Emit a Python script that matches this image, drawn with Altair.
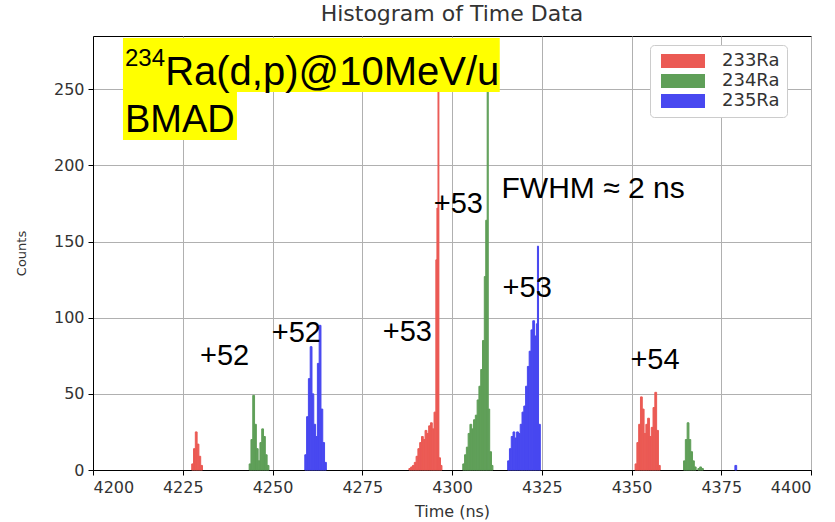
import altair as alt
import pandas as pd

# ---------------- histogram data (bin edges / counts) ----------------
# 233Ra
r1_edges = [4227.5, 4228.0, 4228.5, 4229.0, 4229.5, 4230.0, 4230.5]
r1_counts = [4, 14, 25, 17, 9, 3]
r2_edges = [4288.0, 4288.5, 4289.0, 4289.5, 4290.0, 4290.5, 4291.0, 4291.5, 4292.0,
            4292.5, 4293.0, 4293.5, 4294.0, 4294.5, 4295.0, 4295.5, 4295.8, 4296.1,
            4296.35, 4296.8, 4297.2]
r2_counts = [1, 2, 3, 5, 9, 14, 18, 22, 20, 26, 24, 29, 31, 27, 38, 138, 172, 272, 8, 3]
r3_edges = [4351.0, 4351.5, 4352.0, 4352.5, 4353.0, 4353.5, 4354.0, 4354.5, 4355.0,
            4355.5, 4356.0, 4356.5, 4357.0, 4357.5, 4358.0]
r3_counts = [4, 18, 30, 48, 40, 24, 30, 34, 22, 28, 41, 51, 26, 3]

# 234Ra
g1_edges = [4243.5, 4244.0, 4244.5, 4245.0, 4245.5, 4246.0, 4246.5, 4247.0, 4247.5,
            4248.0, 4248.5, 4249.0]
g1_counts = [4, 20, 49, 30, 14, 6, 18, 27, 22, 10, 3]
g2_edges = [4303.0, 4303.5, 4304.0, 4304.5, 4305.0, 4305.5, 4306.0, 4306.5, 4307.0,
            4307.5, 4308.0, 4308.5, 4309.0, 4309.4, 4309.8, 4310.1, 4310.5, 4311.0, 4311.4]
g2_counts = [4, 10, 15, 24, 30, 27, 33, 36, 46, 55, 66, 85, 127, 164, 268, 40, 12, 3]
g3_edges = [4364.5, 4365.0, 4365.5, 4366.0, 4366.5, 4367.0, 4367.5, 4368.0, 4368.5,
            4369.0, 4369.5, 4370.0]
g3_counts = [6, 20, 31, 20, 12, 6, 2, 0, 1, 2, 1]

# 235Ra
b1_edges = [4259.0, 4259.5, 4260.0, 4260.5, 4261.0, 4261.5, 4262.0, 4262.5, 4263.0,
            4263.5, 4264.0, 4264.5, 4265.0]
b1_counts = [10, 35, 60, 81, 50, 30, 22, 70, 95, 40, 18, 5]
b2_edges = [4315.5, 4316.0, 4316.5, 4317.0, 4317.5, 4318.0, 4318.5, 4319.0, 4319.5,
            4320.0, 4320.5, 4321.0, 4321.5, 4322.0, 4322.5, 4323.0, 4323.5, 4323.8,
            4324.1, 4324.6]
b2_counts = [6, 14, 22, 25, 21, 25, 24, 30, 38, 42, 55, 68, 78, 92, 98, 88, 96, 147, 30]
b3_edges = [4378.8, 4379.3]
b3_counts = [3]

isotopes = ["233Ra", "234Ra", "235Ra"]
colors = ["#eb5a54", "#5f9f58", "#4848f0"]

groups = [
    ("233Ra", r1_edges, r1_counts), ("233Ra", r2_edges, r2_counts), ("233Ra", r3_edges, r3_counts),
    ("234Ra", g1_edges, g1_counts), ("234Ra", g2_edges, g2_counts), ("234Ra", g3_edges, g3_counts),
    ("235Ra", b1_edges, b1_counts), ("235Ra", b2_edges, b2_counts), ("235Ra", b3_edges, b3_counts),
]
rows = []
for iso, edges, counts in groups:
    for i, c in enumerate(counts):
        if c > 0:
            rows.append({"iso": iso, "x0": edges[i], "x1": edges[i + 1], "count": c, "base": 0})
hist = pd.DataFrame(rows)

# ---------------- annotations ----------------
ann_text = ["+52", "+52", "+53", "+53", "+53", "+54", "FWHM \u2248 2 ns",
            "234", "Ra(d,p)@10MeV/u", "BMAD"]
ann_x = [4229.8, 4249.8, 4280.7, 4294.9, 4314.1, 4349.7, 4313.8, 4208.9, 4220.1, 4208.9]
ann_y = [69.0, 84.1, 84.7, 168.8, 113.6, 66.3, 178.6, 265.0, 252.8, 222.0]
ann_size = [29, 29, 29, 29, 29, 29, 30, 24, 40, 38]
ann = pd.DataFrame({"text": ann_text, "x": ann_x, "y": ann_y, "size": ann_size})

box_x0 = [4208.35, 4208.35]
box_x1 = [4313.3, 4240.1]
box_y0 = [248.2, 216.7]
box_y1 = [283.7, 248.2]
boxes = pd.DataFrame({"x0": box_x0, "x1": box_x1, "y0": box_y0, "y1": box_y1})

x_ticks = [4200, 4225, 4250, 4275, 4300, 4325, 4350, 4375, 4400]
y_ticks = [0, 50, 100, 150, 200, 250]

xscale = alt.Scale(domain=[4200, 4400], nice=False, zero=False)
yscale = alt.Scale(domain=[0, 285], nice=False)
cscale = alt.Scale(domain=isotopes, range=colors)

bars = alt.Chart(hist).mark_rect(strokeWidth=1).encode(
    x=alt.X("x0:Q", scale=xscale,
            axis=alt.Axis(values=x_ticks, title="Time (ns)", format="d",
                          titleY=46, titleBaseline="alphabetic")),
    x2="x1:Q",
    y=alt.Y("count:Q", scale=yscale,
            axis=alt.Axis(values=y_ticks, title="Counts",
                          titleX=-72, titleY=217, titleAngle=270,
                          titleAlign="center", titleBaseline="middle", titleFontSize=13)),
    y2="base:Q",
    stroke=alt.Stroke("iso:N", scale=cscale, legend=None),
    color=alt.Color("iso:N", scale=cscale,
                    legend=alt.Legend(title=None, orient="none", legendX=557, legendY=9,
                                      symbolType="M-2.75,-0.875H2.75V0.875H-2.75Z", symbolSize=256,
                                      symbolStrokeWidth=0, symbolOpacity=1, symbolOffset=17,
                                      labelFont="DejaVu Sans", labelFontSize=18,
                                      labelColor="#333333", labelOffset=30,
                                      fillColor="white", strokeColor="#cccccc",
                                      padding=7, cornerRadius=4, rowPadding=2)),
)

rects = alt.Chart(boxes).mark_rect(color="#ffff00").encode(
    x=alt.X("x0:Q", scale=xscale), x2="x1:Q",
    y=alt.Y("y0:Q", scale=yscale), y2="y1:Q",
)

texts = alt.Chart(ann).mark_text(align="left", baseline="alphabetic",
                                 font="Liberation Sans", color="black").encode(
    x=alt.X("x:Q", scale=xscale),
    y=alt.Y("y:Q", scale=yscale),
    text="text:N",
    size=alt.Size("size:Q", scale=None, legend=None),
)

chart = alt.layer(bars, rects, texts).properties(
    width=718, height=434,
    background="white",
    title=alt.TitleParams("Histogram of Time Data", font="DejaVu Sans", fontSize=22,
                          fontWeight="normal", color="#333333", offset=10),
    autosize=alt.AutoSizeParams(type="none"),
    padding={"left": 93, "top": 36, "right": 24, "bottom": 52},
).configure_view(
    stroke="black", strokeWidth=1
).configure_axis(
    grid=True, gridColor="#b0b0b0", gridWidth=1,
    domainColor="black", tickColor="black", tickSize=5,
    labelFont="DejaVu Sans", labelFontSize=16, labelColor="#333333",
    titleFont="DejaVu Sans", titleFontSize=16, titleFontWeight="normal", titleColor="#333333",
    labelPadding=4,
)

chart.save("out.html", embed_options={"renderer": "svg", "actions": False})
